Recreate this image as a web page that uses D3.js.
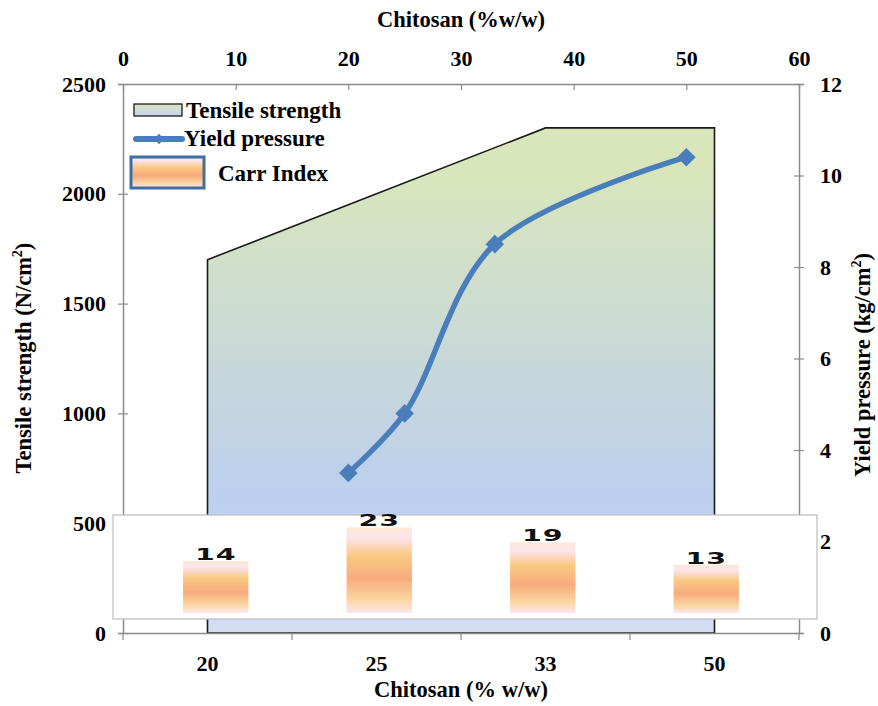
<!DOCTYPE html>
<html>
<head>
<meta charset="utf-8">
<script src="https://cdn.jsdelivr.net/npm/d3@7"></script>
<style>
  body { margin: 0; background: #fff; }
  text { font-family: "Liberation Serif", "Times New Roman", serif; font-weight: bold; }
</style>
</head>
<body>
<div id="chart"></div>
<script>
// chitosan categories (bottom axis)
var categories = ["20", "25", "33", "50"];
// tensile strength area (left axis, N/cm2)
var tensile = [1700, 2000, 2300, 2300];
// yield pressure on top axis (chitosan %w/w) and right axis (kg/cm2)
var yieldX = [20, 25, 33, 50];
var yieldY = [3.5, 4.8, 8.5, 10.4];
// carr index bars in the inset
var carr = [14, 23, 19, 13];

var leftTicks = [0, 500, 1000, 1500, 2000, 2500];
var rightTicks = [0, 2, 4, 6, 8, 10, 12];
var topTicks = [0, 10, 20, 30, 40, 50, 60];

var w = 878, h = 706;
var margin = { top: 84, right: 79, bottom: 73, left: 123 };
var innerWidth = w - margin.left - margin.right;
var innerHeight = h - margin.top - margin.bottom;

var svg = d3.select("#chart").append("svg")
  .attr("width", w)
  .attr("height", h);

var defs = svg.append("defs");

// area gradient: green at top, blue in the middle, pale blue at bottom
var ag = defs.append("linearGradient")
  .attr("id", "areaGrad")
  .attr("gradientUnits", "userSpaceOnUse")
  .attr("x1", 0).attr("y1", margin.top).attr("x2", 0).attr("y2", margin.top + innerHeight);
ag.append("stop").attr("offset", "0").attr("stop-color", "#d9e6bb");
ag.append("stop").attr("offset", "0.6").attr("stop-color", "#bccfee");
ag.append("stop").attr("offset", "1").attr("stop-color", "#dfe7f5");

var lg = defs.append("linearGradient")
  .attr("id", "legGrad")
  .attr("x1", 0).attr("y1", 0).attr("x2", 0).attr("y2", 1);
lg.append("stop").attr("offset", "0").attr("stop-color", "#d8e4c4");
lg.append("stop").attr("offset", "1").attr("stop-color", "#c6d5ee");

// bar gradient
var bg = defs.append("linearGradient")
  .attr("id", "barGrad")
  .attr("x1", 0).attr("y1", 0).attr("x2", 0).attr("y2", 1);
[["0", "#fde9d6"], ["0.12", "#fce4ec"], ["0.33", "#f9c982"], ["0.6", "#f8ab7e"],
 ["0.85", "#fbd7a2"], ["1", "#fde6ee"]].forEach(function(s) {
  bg.append("stop").attr("offset", s[0]).attr("stop-color", s[1]);
});

// scales
var xBand = d3.scaleBand()
  .domain(categories)
  .range([0, innerWidth]);

var xTop = d3.scaleLinear()
  .domain([0, 60])
  .range([0, innerWidth]);

var yLeft = d3.scaleLinear()
  .domain([0, 2500])
  .range([innerHeight, 0]);

var yRight = d3.scaleLinear()
  .domain([0, 12])
  .range([innerHeight, 0]);

var g = svg.append("g")
  .attr("transform", "translate(" + margin.left + "," + margin.top + ")");

// tensile strength area
var areaData = categories.map(function(c, i) { return { c: c, v: tensile[i] }; });
var area = d3.area()
  .x(function(d) { return xBand(d.c) + xBand.bandwidth() / 2; })
  .y0(innerHeight)
  .y1(function(d) { return yLeft(d.v); });

g.append("path")
  .datum(areaData)
  .attr("d", area)
  .attr("fill", "url(#areaGrad)")
  .attr("stroke", "#1a1a1a")
  .attr("stroke-width", 1.6);

// axes
var axisColor = "#8c8c8c";
var tickFont = 22;

function styleAxis(sel) {
  sel.select(".domain").attr("stroke", axisColor).attr("stroke-width", 1.5);
  sel.selectAll(".tick line").attr("stroke", axisColor).attr("stroke-width", 1.2);
  sel.selectAll(".tick text")
    .attr("font-size", tickFont)
    .attr("fill", "#000");
}

var leftAxis = g.append("g")
  .call(d3.axisLeft(yLeft).tickValues(leftTicks).tickFormat(d3.format("d"))
    .tickSizeOuter(0).tickSize(5).tickPadding(12));
leftAxis.selectAll(".tick line").attr("x1", 5).attr("x2", -5);
styleAxis(leftAxis);

var rightAxis = g.append("g")
  .attr("transform", "translate(" + innerWidth + ",0)")
  .call(d3.axisRight(yRight).tickValues(rightTicks).tickSizeOuter(0).tickSize(5).tickPadding(16));
rightAxis.selectAll(".tick line").attr("x1", -5).attr("x2", 5);
styleAxis(rightAxis);

var topAxis = g.append("g")
  .call(d3.axisTop(xTop).tickValues(topTicks).tickSizeOuter(0).tickSizeInner(-6).tickPadding(18));
styleAxis(topAxis);

var bottomAxis = g.append("g")
  .attr("transform", "translate(0," + innerHeight + ")")
  .call(d3.axisBottom(xBand).tickSize(0).tickPadding(22));
styleAxis(bottomAxis);
// ticks between the categories
bottomAxis.selectAll(".sep")
  .data(categories.concat(["end"]))
  .enter().append("line")
  .attr("class", "sep")
  .attr("x1", function(d) { return d === "end" ? innerWidth : xBand(d); })
  .attr("x2", function(d) { return d === "end" ? innerWidth : xBand(d); })
  .attr("y1", 0)
  .attr("y2", 7)
  .attr("stroke", axisColor)
  .attr("stroke-width", 1.2);

// yield pressure line
var yieldData = yieldX.map(function(x, i) { return { x: x, y: yieldY[i] }; });
var line = d3.line()
  .x(function(d) { return xTop(d.x); })
  .y(function(d) { return yRight(d.y); })
  .curve(d3.curveCatmullRom.alpha(0.5));

g.append("path")
  .datum(yieldData)
  .attr("d", line)
  .attr("fill", "none")
  .attr("stroke", "#4a7ebb")
  .attr("stroke-width", 5.5);

var diamond = d3.symbol().type(d3.symbolDiamond2).size(220);
g.selectAll(".marker")
  .data(yieldData)
  .enter().append("path")
  .attr("class", "marker")
  .attr("d", diamond)
  .attr("transform", function(d) { return "translate(" + xTop(d.x) + "," + yRight(d.y) + ")"; })
  .attr("fill", "#4a7ebb");

// carr index inset
var inset = svg.append("g");
inset.append("rect")
  .attr("x", 113).attr("y", 515)
  .attr("width", 704).attr("height", 104)
  .attr("fill", "#fff")
  .attr("stroke", "#c0c0c0")
  .attr("stroke-width", 1.3);

var xCarr = d3.scaleBand()
  .domain(categories)
  .range([134, 788])
  .paddingInner(0.6)
  .paddingOuter(0.3);

var yCarr = d3.scaleLinear()
  .domain([0, 25])
  .range([613, 520]);

inset.selectAll(".bar")
  .data(carr)
  .enter().append("rect")
  .attr("class", "bar")
  .attr("x", function(d, i) { return xCarr(categories[i]); })
  .attr("y", function(d) { return yCarr(d); })
  .attr("width", xCarr.bandwidth())
  .attr("height", function(d) { return yCarr(0) - yCarr(d); })
  .attr("fill", "url(#barGrad)");

inset.selectAll(".lbl")
  .data(carr)
  .enter().append("text")
  .attr("class", "lbl")
  .attr("x", function(d, i) { return xCarr(categories[i]) + xCarr.bandwidth() / 2; })
  .attr("y", function(d) { return yCarr(d) - 1; })
  .attr("text-anchor", "middle")
  .style("font-family", "DejaVu Sans")
  .attr("font-size", 15)
  .attr("letter-spacing", 0.5)
  .attr("fill", "#111")
  .attr("transform", function(d, i) {
    var cx = xCarr(categories[i]) + xCarr.bandwidth() / 2;
    return "translate(" + cx + ",0) scale(1.9,1) translate(" + (-cx) + ",0)";
  })
  .text(function(d) { return d; });

// axis titles
var titleFont = 22.5;
svg.append("text")
  .attr("x", margin.left + innerWidth / 2)
  .attr("y", 27)
  .attr("text-anchor", "middle")
  .attr("font-size", titleFont)
  .text("Chitosan (%w/w)");

svg.append("text")
  .attr("x", margin.left + innerWidth / 2)
  .attr("y", 697)
  .attr("text-anchor", "middle")
  .attr("font-size", titleFont)
  .text("Chitosan (% w/w)");

var lt = svg.append("text")
  .attr("transform", "translate(31,358) rotate(-90)")
  .attr("text-anchor", "middle")
  .attr("font-size", titleFont);
lt.append("tspan").text("Tensile strength (N/cm");
lt.append("tspan").attr("font-size", 14).attr("dy", -9).text("2");
lt.append("tspan").attr("dy", 9).text(")");

var rt = svg.append("text")
  .attr("transform", "translate(870,365) rotate(-90)")
  .attr("text-anchor", "middle")
  .attr("font-size", titleFont);
rt.append("tspan").text("Yield pressure (kg/cm");
rt.append("tspan").attr("font-size", 14).attr("dy", -9).text("2");
rt.append("tspan").attr("dy", 9).text(")");

// legend
var legFont = 23;
var legend = svg.append("g");
legend.append("rect")
  .attr("x", 134).attr("y", 104)
  .attr("width", 48).attr("height", 12)
  .attr("fill", "url(#legGrad)")
  .attr("stroke", "#1a1a1a")
  .attr("stroke-width", 1.3);
legend.append("text")
  .attr("x", 186).attr("y", 118)
  .attr("font-size", legFont)
  .text("Tensile strength");

legend.append("line")
  .attr("x1", 136).attr("x2", 182)
  .attr("y1", 139).attr("y2", 139)
  .attr("stroke", "#4a7ebb")
  .attr("stroke-width", 6)
  .attr("stroke-linecap", "round");
legend.append("path")
  .attr("d", d3.symbol().type(d3.symbolDiamond2).size(70))
  .attr("transform", "translate(159,139)")
  .attr("fill", "#4a7ebb");
legend.append("text")
  .attr("x", 184).attr("y", 146)
  .attr("font-size", legFont)
  .text("Yield pressure");

legend.append("rect")
  .attr("x", 131).attr("y", 157)
  .attr("width", 73).attr("height", 31)
  .attr("fill", "url(#barGrad)")
  .attr("stroke", "#3f6ea6")
  .attr("stroke-width", 3);
legend.append("text")
  .attr("x", 218).attr("y", 181)
  .attr("font-size", legFont)
  .text("Carr Index");
</script>
</body>
</html>
